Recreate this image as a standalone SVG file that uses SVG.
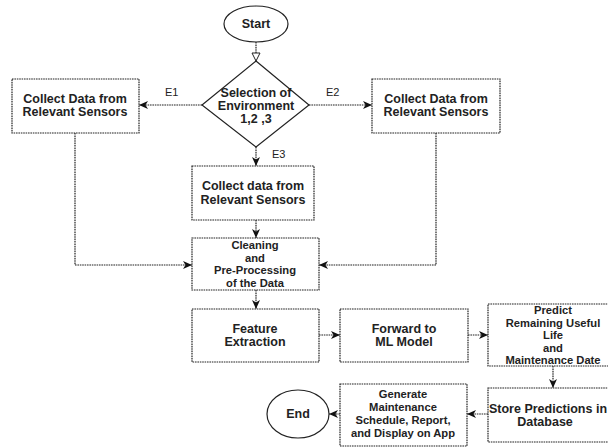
<svg xmlns="http://www.w3.org/2000/svg" width="608" height="447" viewBox="0 0 608 447">
<defs>
<marker id="arr" markerUnits="userSpaceOnUse" markerWidth="10" markerHeight="8" refX="9" refY="4" orient="auto">
<path d="M0,0 L9,4 L0,8 L2.5,4 Z" fill="#111"/>
</marker>
<marker id="hollow" markerUnits="userSpaceOnUse" markerWidth="12" markerHeight="10" refX="9" refY="5" orient="auto">
<path d="M1,1 L9,5 L1,9 Z" fill="#fff" stroke="#222" stroke-width="1"/>
</marker>
<style>
.box{fill:#fff;stroke:#222;stroke-width:1.2;stroke-dasharray:1.6 0.8}
.t{font-family:"Liberation Sans",Arial,sans-serif;font-weight:bold;font-size:12.5px;fill:#222;text-anchor:middle}
.s{font-size:11.2px}
.lbl{font-family:"Liberation Sans",Arial,sans-serif;font-size:11px;fill:#222}
.c{fill:none;stroke:#222;stroke-width:1.2;stroke-dasharray:1.6 0.8}
</style>
</defs>
<rect width="608" height="447" fill="#fff"/>
<g id="connectors">
<path class="c" d="M256,42 V61" marker-end="url(#hollow)"/>
<path class="c" d="M202,105 H139" marker-end="url(#arr)"/>
<path class="c" d="M309,105 H372" marker-end="url(#arr)"/>
<path class="c" d="M256,147 V166" marker-end="url(#arr)"/>
<path class="c" d="M75,133 V265 H192" marker-end="url(#arr)"/>
<path class="c" d="M436,133 V265 H319" marker-end="url(#arr)"/>
<path class="c" d="M256,220 V238" marker-end="url(#arr)"/>
<path class="c" d="M256,290 V309" marker-end="url(#arr)"/>
<path class="c" d="M319,335 H340" marker-end="url(#arr)"/>
<path class="c" d="M468,335 H488" marker-end="url(#arr)"/>
<path class="c" d="M553,366 V388" marker-end="url(#arr)"/>
<path class="c" d="M488,414 H467" marker-end="url(#arr)"/>
<path class="c" d="M340,414 H329" marker-end="url(#arr)"/>
<text class="lbl" x="165" y="96">E1</text>
<text class="lbl" x="326" y="96">E2</text>
<text class="lbl" x="272" y="158">E3</text>
</g>
<g id="start">
<ellipse class="box" cx="256" cy="24" rx="32" ry="18" style="stroke-dasharray:none"/>
<text class="t" x="256" y="28">Start</text>
</g>
<g id="selection">
<polygon class="box" points="256,61 309,105 256,147 202,105" style="stroke-dasharray:none"/>
<text class="t" x="256" y="97">Selection of</text>
<text class="t" x="256" y="110">Environment</text>
<text class="t" x="256" y="123">1,2 ,3</text>
</g>
<g id="collect-left">
<rect class="box" x="12" y="79" width="127" height="54"/>
<text class="t" x="75" y="103">Collect Data from</text>
<text class="t" x="75" y="116">Relevant Sensors</text>
</g>
<g id="collect-right">
<rect class="box" x="372" y="79" width="128" height="54"/>
<text class="t" x="436" y="103">Collect Data from</text>
<text class="t" x="436" y="116">Relevant Sensors</text>
</g>
<g id="collect-mid">
<rect class="box" x="192" y="166" width="122" height="54"/>
<text class="t" x="253" y="190">Collect data from</text>
<text class="t" x="253" y="204">Relevant Sensors</text>
</g>
<g id="cleaning">
<rect class="box" x="192" y="238" width="127" height="52"/>
<text class="t s" x="255" y="249">Cleaning</text>
<text class="t s" x="255" y="261.5">and</text>
<text class="t s" x="255" y="274">Pre-Processing</text>
<text class="t s" x="255" y="286.5">of the Data</text>
</g>
<g id="feature">
<rect class="box" x="192" y="309" width="127" height="53"/>
<text class="t" x="255" y="333">Feature</text>
<text class="t" x="255" y="346">Extraction</text>
</g>
<g id="forward">
<rect class="box" x="340" y="309" width="128" height="53"/>
<text class="t" x="404" y="333">Forward to</text>
<text class="t" x="404" y="346">ML Model</text>
</g>
<g id="predict">
<rect class="box" x="488" y="304" width="130" height="62"/>
<text class="t s" x="553" y="314">Predict</text>
<text class="t s" x="553" y="326.5">Remaining Useful</text>
<text class="t s" x="553" y="339">Life</text>
<text class="t s" x="553" y="351.5">and</text>
<text class="t s" x="553" y="364">Maintenance Date</text>
</g>
<g id="store">
<rect class="box" x="488" y="388" width="130" height="54"/>
<text class="t" x="548" y="413">Store Predictions in</text>
<text class="t" x="545" y="426">Database</text>
</g>
<g id="generate">
<rect class="box" x="340" y="384" width="127" height="62"/>
<text class="t s" x="403" y="398">Generate</text>
<text class="t s" x="403" y="411">Maintenance</text>
<text class="t s" x="403" y="424">Schedule, Report,</text>
<text class="t s" x="403" y="437">and Display on App</text>
</g>
<g id="end">
<ellipse class="box" cx="298" cy="414" rx="31" ry="24" style="stroke-dasharray:none"/>
<text class="t" x="298" y="418">End</text>
</g>
</svg>
